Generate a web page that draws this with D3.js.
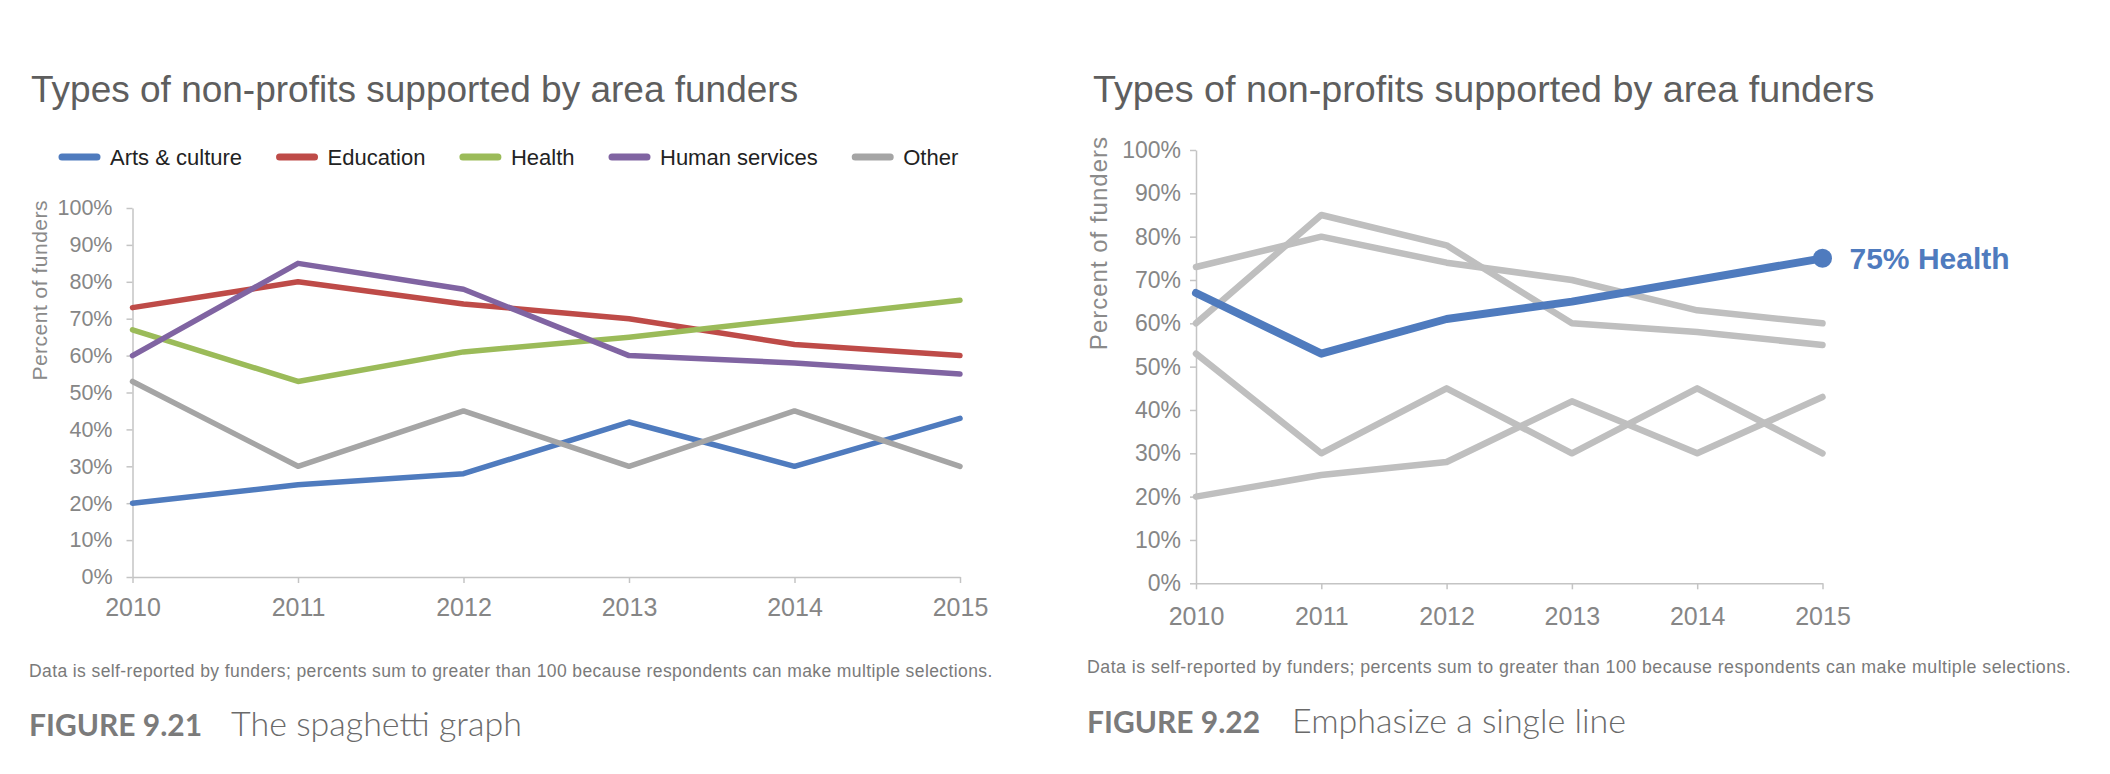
<!DOCTYPE html>
<html>
<head>
<meta charset="utf-8">
<script src="https://cdn.jsdelivr.net/npm/d3@7"></script>
<style>
  body { margin: 0; background: #fff; }
  svg { display: block; }
  .axis path, .axis line { stroke: #c4c4c4; stroke-width: 1.5; }
  .axis text { fill: #868686; font-family: "Liberation Sans", Arial, sans-serif; }
</style>
</head>
<body>
<div id="chart"></div>
<script>
  // data (percent of funders)
  const years = [2010, 2011, 2012, 2013, 2014, 2015];
  const seriesNames = ['Arts & culture', 'Education', 'Health', 'Human services', 'Other'];
  const artsCulture = [20, 25, 28, 42, 30, 43];
  const education = [73, 80, 74, 70, 63, 60];
  const health = [67, 53, 61, 65, 70, 75];
  const humanServices = [60, 85, 78, 60, 58, 55];
  const other = [53, 30, 45, 30, 45, 30];
  const yTicks = [0, 10, 20, 30, 40, 50, 60, 70, 80, 90, 100];
  const seriesColors = ['#4f7bbe', '#be4b48', '#9bbb59', '#8064a2', '#a5a5a5'];

  const title = 'Types of non-profits supported by area funders';
  const yTitle = 'Percent of funders';
  const note = 'Data is self-reported by funders; percents sum to greater than 100 because respondents can make multiple selections.';

  const seriesValues = [artsCulture, education, health, humanServices, other];
  const series = seriesNames.map((name, i) => ({
    name: name,
    color: seriesColors[i],
    values: years.map((yr, j) => ({ year: yr, value: seriesValues[i][j] }))
  }));

  const svg = d3.select('#chart').append('svg')
      .attr('width', 2110)
      .attr('height', 774);

  const sans = '"Liberation Sans", Arial, Helvetica, sans-serif';

  function drawPanel (cfg) {
    const g = svg.append('g');

    g.append('text')
      .attr('x', cfg.titleX)
      .attr('y', 102)
      .style('font-family', sans)
      .style('font-size', cfg.titleSize + 'px')
      .style('fill', '#5e5e5e')
      .text(title);

    const x = d3.scaleLinear().domain([2010, 2015]).range([cfg.left, cfg.right]);
    const y = d3.scaleLinear().domain([0, 100]).range([cfg.bottom, cfg.top]);

    const xAxis = g.append('g')
      .attr('class', 'axis')
      .attr('transform', 'translate(0,' + cfg.bottom + ')')
      .call(d3.axisBottom(x).tickValues(years).tickFormat(d3.format('d'))
        .tickSize(6).tickSizeOuter(0).tickPadding(cfg.xPad));
    xAxis.selectAll('text').style('font-size', '25px');

    const yAxis = g.append('g')
      .attr('class', 'axis')
      .attr('transform', 'translate(' + cfg.left + ',0)')
      .call(d3.axisLeft(y).tickValues(yTicks).tickFormat(d => d + '%')
        .tickSize(6).tickSizeOuter(0).tickPadding(cfg.yPad));
    yAxis.selectAll('text').style('font-size', cfg.yTickSize + 'px');

    g.append('text')
      .attr('transform', 'translate(' + cfg.yTitleX + ',' + (cfg.top - cfg.yTitleOff) + ') rotate(-90)')
      .style('text-anchor', 'end')
      .style('font-family', sans)
      .style('font-size', cfg.yTitleSize + 'px')
      .style('letter-spacing', cfg.yTitleSpacing + 'px')
      .style('fill', '#8a8a8a')
      .text(yTitle);

    const line = d3.line()
      .x(d => x(d.year))
      .y(d => y(d.value));

    g.append('g').selectAll('path')
      .data(cfg.lines)
      .enter().append('path')
        .attr('d', d => line(d.values))
        .attr('fill', 'none')
        .attr('stroke', d => d.color)
        .attr('stroke-width', d => d.width)
        .attr('stroke-linejoin', 'round')
        .attr('stroke-linecap', 'round');

    g.append('text')
      .attr('x', 29 + cfg.offset)
      .attr('y', cfg.noteY)
      .style('font-family', sans)
      .style('font-size', cfg.noteSize + 'px')
      .style('letter-spacing', cfg.noteSpacing + 'px')
      .style('fill', '#7a7a7a')
      .text(note);

    const fig = g.append('text')
      .attr('x', 29 + cfg.offset)
      .attr('y', cfg.capY)
      .style('font-family', 'Lato, sans-serif')
      .style('font-weight', 700)
      .style('font-size', '30px')
      .style('fill', '#7b7b7b')
      .text(cfg.figure);

    g.append('text')
      .attr('x', 29 + cfg.offset + fig.node().getComputedTextLength() + cfg.capGap)
      .attr('y', cfg.capY)
      .style('font-family', 'Lato, sans-serif')
      .style('font-weight', 300)
      .style('font-size', '34px')
      .style('fill', '#6a6a6a')
      .text(cfg.caption);

    return { g, x, y };
  }

  // left: the spaghetti graph
  const leftPanel = drawPanel({
    offset: 0, titleX: 31, titleSize: 37,
    left: 132.5, right: 960, top: 208, bottom: 577,
    xPad: 15, yPad: 14, yTickSize: 21.5,
    yTitleX: 47, yTitleOff: 8, yTitleSize: 21, yTitleSpacing: 0.5,
    lines: series.map(s => ({ values: s.values, color: s.color, width: 5.5 })),
    noteY: 677, noteSize: 17.5, noteSpacing: 0.4, capY: 736, capGap: 29,
    figure: 'FIGURE 9.21', caption: 'The spaghetti graph'
  });

  // legend
  const legend = leftPanel.g.append('g').attr('transform', 'translate(59,157)');
  let lx = 0;
  series.forEach(s => {
    const item = legend.append('g').attr('transform', 'translate(' + lx + ',0)');
    item.append('line')
      .attr('x1', 3).attr('x2', 38)
      .attr('stroke', s.color)
      .attr('stroke-width', 7)
      .attr('stroke-linecap', 'round');
    const t = item.append('text')
      .attr('x', 51)
      .attr('dy', '0.36em')
      .style('font-family', sans)
      .style('font-size', '22px')
      .style('fill', '#222')
      .text(s.name);
    lx += 51 + t.node().getComputedTextLength() + 34.5;
  });

  // right: emphasize a single line
  const focus = 'Health';
  const rightLines = series.filter(s => s.name !== focus)
    .map(s => ({ values: s.values, color: '#bfbfbf', width: 6.5 }));
  const focusSeries = series.find(s => s.name === focus);
  rightLines.push({ values: focusSeries.values, color: '#4f7bbe', width: 8 });

  const rightPanel = drawPanel({
    offset: 1058, titleX: 1093, titleSize: 37.7,
    left: 1196, right: 1822.5, top: 150, bottom: 583.3,
    xPad: 18, yPad: 9, yTickSize: 23,
    yTitleX: 1107, yTitleOff: 14, yTitleSize: 24, yTitleSpacing: 1,
    lines: rightLines,
    noteY: 673, noteSize: 17.8, noteSpacing: 0.45, capY: 733, capGap: 32,
    figure: 'FIGURE 9.22', caption: 'Emphasize a single line'
  });

  const last = focusSeries.values[focusSeries.values.length - 1];
  rightPanel.g.append('circle')
    .attr('cx', rightPanel.x(last.year))
    .attr('cy', rightPanel.y(last.value))
    .attr('r', 9.5)
    .attr('fill', '#4f7bbe');

  rightPanel.g.append('text')
    .attr('x', rightPanel.x(last.year) + 27)
    .attr('y', rightPanel.y(last.value))
    .attr('dy', '0.36em')
    .style('font-family', sans)
    .style('font-weight', 'bold')
    .style('font-size', '30px')
    .style('fill', '#4f7bbe')
    .text(last.value + '% ' + focus);
</script>
</body>
</html>
